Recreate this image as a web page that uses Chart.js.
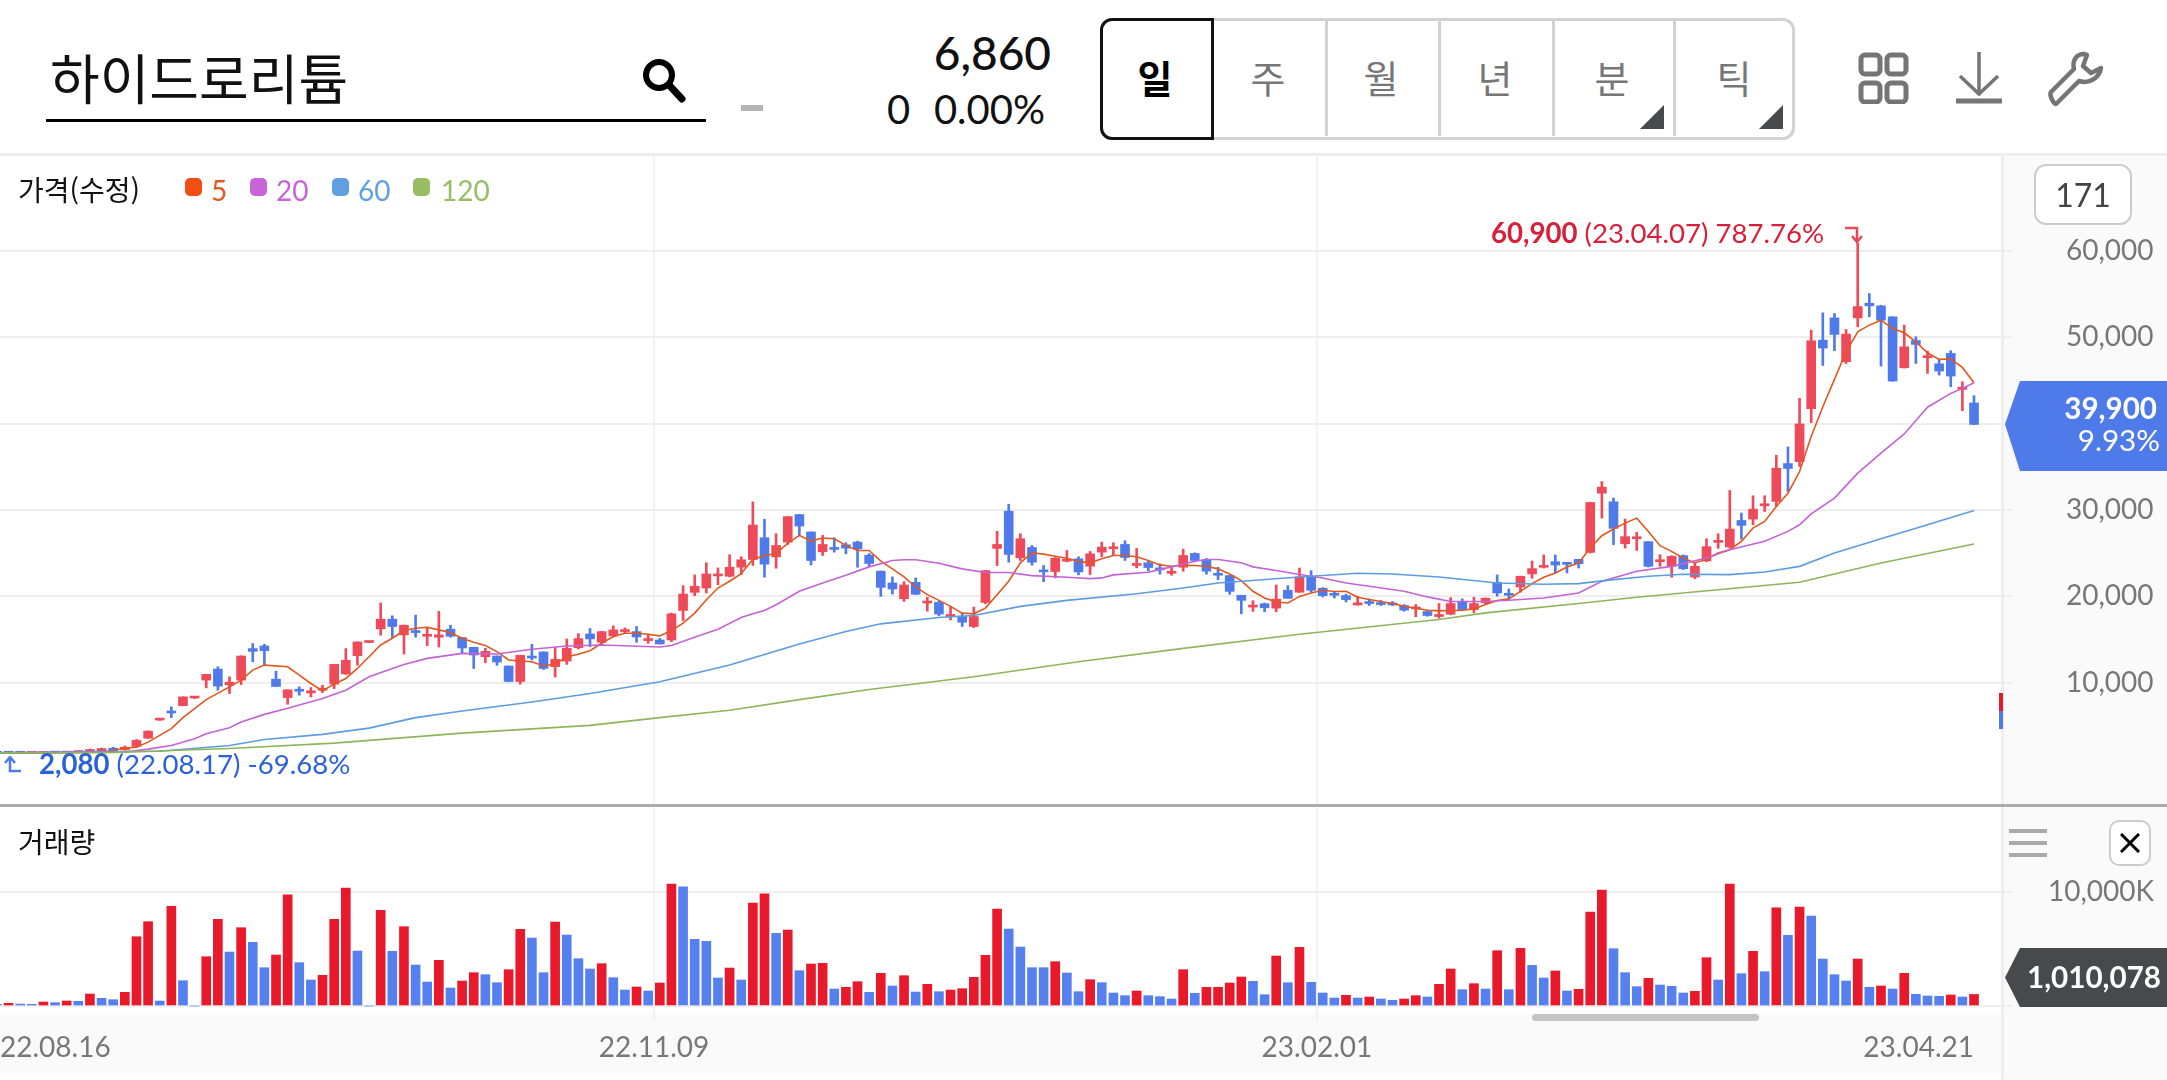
<!DOCTYPE html>
<html lang="ko">
<head>
<meta charset="utf-8">
<title>하이드로리튬</title>
<script src="https://cdn.jsdelivr.net/npm/chart.js@4"></script>
<style>
  html, body { margin: 0; padding: 0; background: #fff; width: 2167px; height: 1080px; overflow: hidden; }
  body { font-family: Lato, "Noto Sans CJK KR", sans-serif; position: relative; }
  .abs, canvas { position: absolute; }
  .cjk { font-family: "Noto Sans CJK KR", sans-serif; }
  .txt { white-space: nowrap; line-height: 1; }
  .btn { top: 77px; transform: translate(-50%, -50%); font-size: 38px; color: #777; }
  .sep { top: 20px; width: 3px; height: 116px; background: #d2d2d2; }
  .dot { top: 178px; width: 17px; height: 18px; border-radius: 5px; }
  .leg { top: 176px; font-size: 28px; }
  .ax { font-size: 29.6px; color: #fff; }
</style>
</head>
<body>
<!-- header -->
<div class="abs txt cjk" style="left:50px;top:50px;font-size:54px;color:#111;">하이드로리튬</div>
<div class="abs" style="left:46px;top:119px;width:660px;height:3px;background:#000;"></div>
<svg class="abs" style="left:640px;top:56px;" width="48" height="48" viewBox="0 0 48 48">
  <circle cx="19" cy="19" r="13" fill="none" stroke="#000" stroke-width="6"/>
  <line x1="29" y1="29" x2="42" y2="43" stroke="#000" stroke-width="7" stroke-linecap="round"/>
</svg>
<div class="abs" style="left:741px;top:105px;width:22px;height:6px;background:#b5b5b5;"></div>
<div class="abs txt" style="right:1116px;top:30px;font-size:46px;font-weight:500;color:#111;">6,860</div>
<div class="abs txt" style="left:887px;top:89px;font-size:40px;color:#111;">0</div>
<div class="abs txt" style="right:1122px;top:89px;font-size:40px;color:#111;">0.00%</div>

<div class="abs" style="left:1100px;top:18px;width:689px;height:116px;border:3px solid #d2d2d2;border-radius:12px;"></div>
<div class="abs" style="left:1100px;top:18px;width:108px;height:116px;border:3px solid #111;border-radius:12px 0 0 12px;background:#fff;"></div>
<div class="abs sep" style="left:1325px;"></div>
<div class="abs sep" style="left:1438px;"></div>
<div class="abs sep" style="left:1552px;"></div>
<div class="abs sep" style="left:1673px;"></div>
<div class="abs txt cjk btn" style="left:1155px;color:#000;font-weight:700;">일</div>
<div class="abs txt cjk btn" style="left:1268px;">주</div>
<div class="abs txt cjk btn" style="left:1381px;">월</div>
<div class="abs txt cjk btn" style="left:1495px;">년</div>
<div class="abs txt cjk btn" style="left:1612px;">분</div>
<div class="abs txt cjk btn" style="left:1734px;">틱</div>
<svg class="abs" style="left:1640px;top:105px;" width="24" height="24"><path d="M24 0V24H0Z" fill="#47494d"/></svg>
<svg class="abs" style="left:1759px;top:105px;" width="24" height="24"><path d="M24 0V24H0Z" fill="#47494d"/></svg>

<svg class="abs" style="left:1858px;top:52px;" width="52" height="52" fill="none" stroke="#757575" stroke-width="5">
  <rect x="3" y="3" width="19" height="19" rx="4"/><rect x="29" y="3" width="19" height="19" rx="4"/>
  <rect x="3" y="31" width="19" height="19" rx="4"/><rect x="29" y="31" width="19" height="19" rx="4"/>
</svg>
<svg class="abs" style="left:1955px;top:52px;" width="48" height="54" fill="none" stroke="#757575">
  <path d="M24 0V40M5 24L24 42L43 24" stroke-width="3.5"/>
  <line x1="1" y1="49" x2="47" y2="49" stroke-width="5"/>
</svg>
<svg class="abs" style="left:2046px;top:51px;" width="58" height="56" viewBox="0 0 58 56" fill="none" stroke="#757575" stroke-width="4.5" stroke-linejoin="round">
  <path d="M38 3C30 3 26 10 28 18L5 41C3 44 7 52 10 53L33 30C42 33 53 28 55 17L45 22L37 15L41 4Z"/>
</svg>
<div class="abs" style="left:0;top:153px;width:2167px;height:3px;background:#eeeeee;"></div>

<!-- panels behind the canvases -->
<div class="abs" style="left:2001px;top:156px;width:166px;height:924px;background:#fafafa;"></div>
<div class="abs" style="left:0;top:1013px;width:2001px;height:60px;background:#fafafa;"></div>
<div class="abs" style="left:2001px;top:156px;width:3px;height:924px;background:#eeeeee;"></div>

<canvas id="priceChart" width="2167" height="648" style="left:0;top:156px;"></canvas>
<canvas id="volumeChart" width="2167" height="267" style="left:0;top:808px;"></canvas>

<div class="abs" style="left:0;top:804px;width:2167px;height:3px;background:#ababab;"></div>

<!-- legend -->
<div class="abs txt cjk" style="left:18px;top:175px;font-size:28px;color:#111;">가격(수정)</div>
<div class="abs dot" style="left:185px;background:#f04e14;"></div>
<div class="abs txt leg" style="left:211px;color:#e8551f;">5</div>
<div class="abs dot" style="left:250px;background:#c864d8;"></div>
<div class="abs txt leg" style="left:276px;color:#c864d8;">20</div>
<div class="abs dot" style="left:332px;background:#5f9fe2;"></div>
<div class="abs txt leg" style="left:358px;color:#5f9fe2;">60</div>
<div class="abs dot" style="left:413px;background:#98bd62;"></div>
<div class="abs txt leg" style="left:441px;color:#98bd62;">120</div>
<div class="abs txt cjk" style="left:18px;top:827px;font-size:28px;color:#111;">거래량</div>

<!-- high / low labels -->
<div class="abs txt" style="left:1491px;top:219px;font-size:27.6px;color:#d8203a;"><b>60,900</b> (23.04.07) 787.76%</div>
<svg class="abs" style="left:1844px;top:226px;" width="20" height="18" fill="none" stroke="#e8485a" stroke-width="2.5">
  <path d="M1 2H13V15M8 10L13 16L18 10"/>
</svg>
<div class="abs txt" style="left:39px;top:750px;font-size:27.6px;color:#2b62d9;"><b>2,080</b> (22.08.17) -69.68%</div>
<svg class="abs" style="left:3px;top:756px;" width="20" height="18" fill="none" stroke="#4f7bea" stroke-width="2.5">
  <path d="M18 15H7V2M2 7L7 1L12 7"/>
</svg>

<!-- right axis extras -->
<div class="abs" style="left:2034px;top:164px;width:94px;height:57px;background:#fff;border:2px solid #ccc;border-radius:12px;"></div>
<div class="abs txt" style="left:2034px;top:179px;width:98px;text-align:center;font-size:32px;color:#444;">171</div>
<div class="abs" style="left:2005px;top:381px;width:162px;height:90px;background:#4f7bea;clip-path:polygon(15px 0,100% 0,100% 100%,15px 100%,0 48%);"></div>
<div class="abs txt ax" style="top:393px;right:10px;font-weight:700;">39,900</div>
<div class="abs txt ax" style="top:425px;right:7px;">9.93%</div>
<div class="abs" style="left:1999px;top:693px;width:4px;height:18px;background:#e8192a;"></div>
<div class="abs" style="left:1999px;top:711px;width:4px;height:18px;background:#4f7bea;"></div>

<div class="abs" style="left:2009px;top:829px;width:38px;height:4px;background:#aaa;"></div>
<div class="abs" style="left:2009px;top:841px;width:38px;height:4px;background:#aaa;"></div>
<div class="abs" style="left:2009px;top:853px;width:38px;height:4px;background:#aaa;"></div>
<div class="abs" style="left:2109px;top:820px;width:38px;height:42px;background:#fff;border:2px solid #ccc;border-radius:10px;"></div>
<svg class="abs" style="left:2120px;top:833px;" width="20" height="20" stroke="#000" stroke-width="3"><path d="M1 1L19 19M19 1L1 19"/></svg>
<div class="abs" style="left:2005px;top:948px;width:162px;height:59px;background:#47494d;clip-path:polygon(15px 0,100% 0,100% 100%,15px 100%,0 50%);"></div>
<div class="abs txt ax" style="top:962px;right:6px;font-weight:700;">1,010,078</div>

<!-- scrollbar -->
<div class="abs" style="left:1532px;top:1014px;width:227px;height:7px;border-radius:4px;background:#c4c4c4;"></div>

<script>
// x axis
const xTickPos = [0.27, 56.5, 113.5, 170];
const xTickLabels = ['22.08.16', '22.11.09', '23.02.01', '23.04.21'];
const xGridLines = [56.5, 113.5];
const xMin = 0.267, xMax = 172.32;

// y axes
const priceTicks = [10000, 20000, 30000, 40000, 50000, 60000];
const priceMin = -4076, priceMax = 71008;
const volumeTicks = [0, 10000];
const volumeMin = -1312, volumeMax = 17323;

// daily candles
const opens = [
  1950,1950,1950,1780,1780,1950,1820,1880,1930,2040,
  2390,2200,2600,3560,5650,6660,7320,8200,10280,11560,
  9730,10280,13930,14240,10390,8260,9110,8800,9110,9810,
  11010,13110,14640,16220,17340,15520,16020,15360,15250,16180,
  15210,14080,12990,13070,11910,10120,12990,13540,11830,12490,
  14040,15630,14660,15400,15900,15900,14860,14930,14930,18350,
  20450,20950,22350,22310,23360,24250,26780,24560,26270,29460,
  27440,25150,25610,25960,26270,24760,22900,21540,19710,21610,
  19210,19280,17650,17690,16490,19280,25540,29850,24450,25650,
  22970,22860,24060,24330,23480,25110,25500,26000,23560,23870,
  23280,22660,23360,24950,24250,22580,22390,20100,18740,19130,
  18620,20690,20460,22230,20920,20300,20070,18990,19340,19230,
  19150,18920,18530,18220,17650,17920,19380,18450,19230,21610,
  20260,21080,22580,23350,24000,23850,24270,25080,31940,30940,
  26090,26660,26320,24000,23460,24700,22230,24080,26240,25700,
  28780,28940,30480,30980,35370,35600,41730,49670,52250,47170,
  52250,53950,53640,52370,46470,49630,47630,46930,48130,43970,42390
];
const closes = [
  1800,1800,1800,1930,1930,1820,1980,2060,2240,2350,
  2080,2500,3290,4370,5700,6470,8330,8250,10940,9580,
  10040,13070,13610,13690,9540,9150,8990,8990,9300,12100,
  12570,14700,14680,17340,16490,16640,15790,15520,15520,15360,
  14000,13190,13610,12370,10120,13150,12840,11630,12680,13960,
  15090,15050,15900,16100,16060,15280,15010,14470,17960,20250,
  21150,22580,22580,23360,24220,28250,23710,25880,29220,28140,
  24140,26000,25420,25570,25500,23790,21030,20840,21300,20220,
  19360,17930,17810,16990,17650,22970,26000,24840,26660,23940,
  22820,24410,24250,22820,24910,25690,25690,24490,23750,23320,
  23050,22860,24720,24140,22900,22430,20560,19520,18900,18660,
  19670,19760,22230,20690,20070,20110,19610,19230,19150,19030,
  18990,18380,18690,17760,17800,19150,18450,19150,19770,20380,
  20110,22310,23200,23540,23620,23700,23770,30860,32640,27860,
  26900,26820,23460,24160,24620,23190,23460,25740,26430,27780,
  28210,30090,30710,34830,34800,39960,49600,48750,50330,50370,
  53560,53640,51980,44930,48900,49170,47820,46090,45510,44160,39900
];
const highs = [
  2000,2000,2000,1950,1960,1980,2000,2100,2300,2400,
  2500,2650,3400,4400,5750,7170,8350,8300,10950,11830,
  10660,13100,14510,14430,11320,9170,9500,9420,9690,12120,
  13930,14720,14700,19210,17730,16660,17810,16370,18240,16640,
  15230,14100,13960,13090,11930,13170,14430,13560,14080,15050,
  15670,16250,15920,16570,16330,16490,15520,15130,18040,21220,
  22470,23870,23280,24800,24570,30930,28910,27240,29240,29480,
  27460,27050,26780,26200,26390,24950,22920,22240,21690,22120,
  19870,19400,18820,18040,18740,22990,27520,30660,27240,25880,
  23560,24490,25300,24570,25190,26270,26200,26430,25530,24140,
  23750,23400,25460,25030,24370,23360,22400,20120,19480,19210,
  21300,21230,23270,22960,21000,20540,20230,20000,19690,19500,
  19380,19030,19030,18380,19150,19840,19690,19880,19790,22460,
  20840,22330,24080,24780,24780,23870,24290,30880,33290,31370,
  28940,27400,26340,24810,24700,24780,23930,26660,27240,32250,
  29630,31640,31640,36340,37300,42930,50830,52830,52760,50900,
  60900,55070,53720,52390,51410,50060,48400,47440,48440,44850,43240
];
const lows = [
  1750,1750,1780,1750,1750,1800,1800,1850,1900,2000,
  2050,2150,2500,3500,5600,5930,7300,8150,9380,9110,
  8720,9770,12410,11980,9520,7480,8530,8330,8840,9300,
  10930,12020,14620,15480,15210,13300,15250,14280,14120,15250,
  13380,11630,12290,11980,10080,9810,12610,11520,10630,12100,
  13890,14160,14350,15250,15710,14660,14550,14450,14740,17190,
  20060,20370,21340,22230,22510,23560,22200,23240,26000,26970,
  23630,24720,25110,24910,23360,23400,19980,20250,19400,20200,
  18270,17730,17260,16490,16370,19130,23560,23940,24140,23590,
  21690,22120,23980,22470,22510,24570,24720,24140,23280,22930,
  22550,22430,22900,23980,22550,21920,20220,17960,18240,18200,
  18200,19740,20440,20460,19920,19800,19340,18950,18920,18920,
  18920,18260,17610,17680,17450,17840,18380,18070,19030,20000,
  19610,20460,22080,23270,22690,22690,23270,25000,29050,25970,
  25580,25310,23390,23460,22190,23080,22040,24000,25550,25580,
  26620,28280,29820,30400,32140,35030,40110,46740,48440,46970,
  51210,52370,46670,44900,46440,46970,45820,45620,44280,41500,39880
];

// volume in thousands of shares, R / B per day ('-' had no trade)
const volumes = [
  146,233,175,146,350,292,437,408,1049,670,
  554,1195,6063,7375,437,8716,2215,0,4314,7579,
  4722,6850,5568,3352,4460,9736,3790,2274,2682,7579,
  10319,4810,0,8366,4781,6938,3585,2099,3994,1574,
  2186,2915,2740,2040,3177,6705,5947,2915,7346,6209,
  4139,3236,3702,2478,1399,1662,1312,2011,10669,10436,
  5830,5655,2449,3323,2274,9007,9824,6355,6646,3090,
  3673,3731,1487,1632,2128,1195,2857,1749,2653,1224,
  1895,1253,1399,1516,2507,4431,8483,6734,5160,3352,
  3352,3877,2886,1253,2303,2040,1137,904,1312,904,
  816,612,3177,1108,1632,1632,2011,2536,2157,991,
  4373,2040,5130,2070,1137,700,933,700,787,612,
  496,612,904,787,1895,3236,1428,1953,1487,4839,
  1428,5043,3556,2449,3061,1312,1458,8220,10144,5014,
  2915,1691,2419,1836,1720,1137,1283,4227,2274,10669,
  2828,4781,3002,8599,6180,8658,7871,4110,2740,2186,
  4110,1632,1749,1487,2857,1020,875,845,962,787,1010
];
const volumeDirs = (
  'BRBBRBRBRB' + 'BRRRBRB-RR' + 'BRBBRRBBRR' + 'RB-RBRBBRB' + 'RRBBRRBBRB' + 'BBRBBRBRRB' +
  'BBBRBRRBRB' + 'RRBRRBRBRB' + 'RBRRRRRBBB' + 'BRBBRBBBRB' + 'BBRBRRRRBB' + 'RBRBBBRBRB' +
  'BRRBRRBRBR' + 'BRBBRBRRRB' + 'BBRBBBRRBR' + 'BRBRBRBBBB' + 'RBRBRBBBRBR'
).split('');

const ma5Days = [0,9,11,12,13,15,16,18,20,21,22,23,25,26,27,28,29,30,31,32,33,34,35,36,37,38,39,40,41,42,43,44,45,46,47,48,49,50,51,52,53,54,55,56,57,58,59,60,61,62,63,64,65,66,67,68,69,70,71,72,73,74,75,76,77,78,79,80,81,82,83,84,85,86,87,88,89,90,91,92,93,94,95,96,97,98,99,100,101,102,103,104,105,106,107,108,109,110,111,112,113,114,115,116,117,118,119,120,121,122,123,124,125,126,127,128,129,130,131,132,133,134,135,136,137,138,139,140,141,142,143,144,145,146,147,148,149,150,151,152,153,154,155,156,157,158,159,160,161,162,163,164,165,166,167,168,169,170];
const ma5 = [
  1850,1930,2390,2510,3090,4650,5930,8020,9500,10280,11440,12020,11830,10860,9890,9030,9810,10470,11630,12990,
  14350,15130,16020,16290,16410,16100,15790,15130,14660,14280,13580,12610,12490,12410,11910,12140,12990,13270,13690,14550,
  15320,15710,15710,15600,15400,16020,16880,18040,19590,20950,21730,22620,24250,24720,24950,26120,27050,26390,26740,26660,
  25890,25300,25300,24060,23170,22240,21070,20180,19520,18820,18040,17960,18620,20180,21730,23870,25030,24880,24640,24410,
  24020,23870,24330,24720,24720,24570,24140,23630,23480,23590,23560,23480,23170,22580,21810,20570,19790,19320,19210,19980,
  20380,20690,20540,20570,19880,19610,19380,19150,18840,18610,18380,18300,18340,18380,18530,19030,19500,19690,20570,21460,
  22190,22690,23390,23850,25580,27010,27780,28470,29050,27510,25850,25200,24430,23850,24310,25010,25390,26360,27900,28670,
  30400,31940,34450,38500,41960,45120,48320,50640,51410,51980,51020,50520,49480,48210,47440,47480,46510,44740
];
const ma20Days = [0,11,13,15,17,18,20,21,23,25,28,30,32,35,37,40,43,46,49,52,57,58,60,62,64,65,66,67,69,71,73,75,77,78,79,81,83,85,87,89,92,94,95,96,99,101,103,104,105,107,108,110,112,114,116,118,121,123,125,128,130,133,136,138,141,144,147,149,152,154,155,156,158,160,162,164,166,168,169,170];
const ma20 = [
  1850,1930,2280,2700,3480,4060,4760,5420,6310,7010,8140,9110,10660,12100,12800,13380,13300,13850,14240,14350,
  14120,14280,15250,16180,17540,17960,18350,19010,20570,21540,22430,23400,24140,24220,24220,23830,23170,22740,22740,22390,
  22200,22040,22120,22470,22780,23400,24060,24250,24250,23870,23400,22970,22510,22120,21540,21150,20570,19920,19380,19380,
  19530,19800,20380,21730,22890,23460,24430,25390,26360,27510,28280,29550,31370,34260,36570,38800,41900,43500,44080,44740
];
const ma60Days = [0,14,20,23,28,32,36,40,46,51,57,63,69,73,76,81,84,88,92,98,102,105,112,117,120,124,129,133,136,139,142,145,149,152,155,158,162,166,170];
const ma60 = [
  1850,2040,2700,3400,3990,4720,5930,6700,7750,8720,10080,12020,14470,15910,16800,17540,17770,18820,19520,20290,
  20950,21540,22230,22660,22580,22230,21540,21380,21460,21920,22310,22540,22500,22810,23460,25010,26660,28280,29940
];
const ma120Days = [0,10,20,29,40,51,57,63,69,75,84,93,102,112,124,128,136,141,155,162,170];
const ma120 = [
  1850,1890,2350,2980,4140,5030,5930,6780,8020,9190,10660,12410,13960,15600,17300,18070,19150,19880,21610,23850,26050
];

const candleRed = '#ef4a5a', candleBlue = '#4f7bea';
const barRed = '#e8192a', barBlue = '#5580ee';
const gridColor = '#eeeeee';
const labelFont = { family: 'Lato', size: 28 };

const days = opens.map((_, i) => i);

function lineSet(xs, ys, color) {
    return {
        type: 'line',
        data: xs.map((x, i) => ({ x: x, y: ys[i] })),
        borderColor: color,
        borderWidth: 1.6,
        pointRadius: 0,
        tension: 0,
        order: 0
    };
}

// scales keep their tick padding out of the plot area
function noPadding(s) {
    s.paddingTop = 0; s.paddingBottom = 0; s.paddingLeft = 0; s.paddingRight = 0;
}

function xAxis(showLabels) {
    return {
        type: 'linear',
        offset: false,
        min: xMin,
        max: xMax,
        afterBuildTicks: s => { s.ticks = xTickPos.map(v => ({ value: v })); },
        afterFit: s => { s.height = showLabels ? 54 : 0; noPadding(s); },
        border: { display: false },
        grid: {
            drawTicks: false,
            offset: false,
            lineWidth: 2,
            color: c => (c.tick && xGridLines.includes(c.tick.value)) ? '#f2f2f2' : 'transparent'
        },
        ticks: {
            display: showLabels,
            autoSkip: false,
            maxRotation: 0,
            align: 'inner',
            padding: 10,
            color: '#777',
            font: labelFont,
            callback: (v, i) => xTickLabels[i]
        }
    };
}

function yAxis(min, max, values, labelPad, fmt) {
    return {
        position: 'right',
        offset: false,
        min: min,
        max: max,
        afterBuildTicks: s => { s.ticks = values.map(v => ({ value: v })); },
        afterFit: s => { s.width = 166; noPadding(s); },
        border: { display: false },
        grid: { color: gridColor, lineWidth: 2, tickLength: 11, tickColor: gridColor },
        ticks: {
            autoSkip: false,
            crossAlign: 'near',
            padding: labelPad,
            color: '#777',
            font: labelFont,
            callback: fmt
        }
    };
}

const baseOptions = {
    responsive: false,
    animation: false,
    layout: { padding: 0, autoPadding: false },
    plugins: { legend: { display: false }, tooltip: { enabled: false } }
};

new Chart(document.getElementById('priceChart').getContext('2d'), {
    type: 'bar',
    data: {
        datasets: [
            lineSet(ma120Days, ma120, '#8db65a'),
            lineSet(ma60Days, ma60, '#5c9ce0'),
            lineSet(ma20Days, ma20, '#c463d6'),
            lineSet(ma5Days, ma5, '#e2571e'),
            {
                // bodies
                data: days.map(i => ({ x: i, y: [opens[i], closes[i]] })),
                backgroundColor: days.map(i => closes[i] >= opens[i] ? candleRed : candleBlue),
                barThickness: 9,
                minBarLength: 2,
                grouped: false,
                order: 1
            },
            {
                // wicks
                data: days.map(i => ({ x: i, y: [lows[i], highs[i]] })),
                backgroundColor: days.map(i => closes[i] >= opens[i] ? candleRed : candleBlue),
                barThickness: 2,
                grouped: false,
                order: 2
            }
        ]
    },
    options: {
        ...baseOptions,
        scales: {
            x: xAxis(false),
            y: yAxis(priceMin, priceMax, priceTicks, 54, v => v.toLocaleString('en-US'))
        }
    }
});

new Chart(document.getElementById('volumeChart').getContext('2d'), {
    type: 'bar',
    data: {
        datasets: [{
            data: days.map(i => ({ x: i, y: volumes[i] })),
            backgroundColor: volumeDirs.map(d => d === 'R' ? barRed : barBlue),
            barThickness: 9,
            grouped: false
        }]
    },
    options: {
        ...baseOptions,
        scales: {
            x: xAxis(true),
            y: yAxis(volumeMin, volumeMax, volumeTicks, 36, v => v ? v.toLocaleString('en-US') + 'K' : '')
        }
    }
});
</script>
</body>
</html>
